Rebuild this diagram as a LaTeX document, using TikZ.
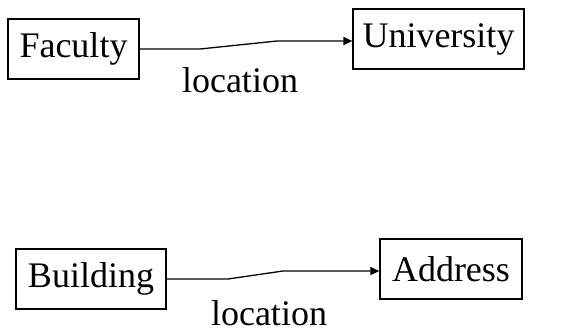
\documentclass[tikz,border=0pt]{standalone}
\usepackage{fontspec}
\setmainfont{Liberation Serif}
\usetikzlibrary{arrows.meta}
\begin{document}
\begin{tikzpicture}[x=1pt,y=-1pt,
  ent/.style={draw,line width=1.3pt,inner sep=0pt,font=\fontsize{36}{40}\selectfont},
  lbl/.style={inner sep=0pt,anchor=base,font=\fontsize{36}{40}\selectfont},
  rel/.style={line width=1.3pt,-{Triangle[length=9pt,width=8pt]}}]
\useasboundingbox (0,0) rectangle (578,334);
\fill[white] (0,0) rectangle (578,334);
\node[ent,minimum width=131pt,minimum height=60pt] (fac) at (73.5,49) {Faculty};
\node[ent,minimum width=171pt,minimum height=60pt] (uni) at (438.5,39) {University};
\node[ent,minimum width=150pt,minimum height=60pt] (bld) at (91,279) {Building};
\node[ent,minimum width=142pt,minimum height=60pt] (adr) at (451,269) {Address};
\coordinate (k1) at (200,49);
\coordinate (k2) at (277,41);
\coordinate (k3) at (228,279);
\coordinate (k4) at (283,271);
\draw[rel] (fac.east) -- (k1) -- (k2) -- (k2 -| uni.west);
\draw[rel] (bld.east) -- (k3) -- (k4) -- (k4 -| adr.west);
\node[lbl] (l1) at (240,93) {location};
\node[lbl] (l2) at (269,325) {location};
\end{tikzpicture}
\end{document}
